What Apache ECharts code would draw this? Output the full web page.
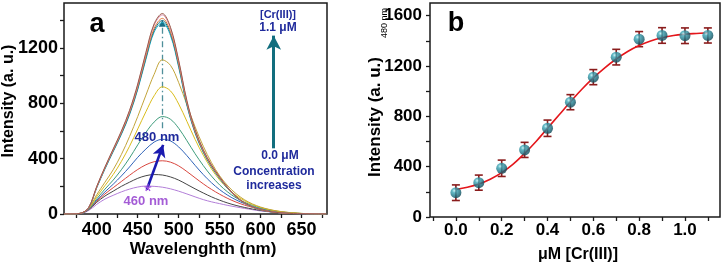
<!DOCTYPE html>
<html>
<head>
<meta charset="utf-8">
<script src="https://cdn.jsdelivr.net/npm/echarts@6/dist/echarts.min.js"></script>
<style>
  html, body { margin: 0; padding: 0; background: #fff; }
  #main { width: 724px; height: 264px; }
</style>
</head>
<body>
<div id="main"></div>
<script>
// panel a: emission spectra, one array per [Cr(III)] step
const wavelengths = [360, 370, 380, 390, 400, 410, 420, 430, 440, 450, 460, 470, 480, 490, 500, 510, 520,
  530, 540, 550, 560, 570, 580, 590, 600, 610, 620, 630, 640, 650, 660, 670, 680];
const spec00 = [0, 0, 3, 25, 70, 108, 135, 160, 180, 195, 202, 200, 194, 182, 165, 145, 124, 104, 88, 75, 62, 51, 41, 31, 22, 16, 11, 7, 4, 2, 1, 0, 0];
const spec01 = [0, 0, 4, 30, 85, 130, 165, 200, 230, 258, 277, 285, 282, 268, 245, 214, 182, 152, 124, 100, 79, 62, 48, 36, 26, 18, 12, 7, 4, 2, 1, 0, 0];
const spec02 = [0, 0, 4, 32, 92, 145, 190, 235, 280, 322, 356, 378, 385, 375, 348, 307, 262, 218, 178, 143, 112, 86, 65, 48, 35, 24, 16, 10, 6, 3, 1, 0, 0];
const spec03 = [0, 0, 4, 34, 100, 160, 215, 275, 340, 410, 470, 520, 540, 528, 485, 422, 352, 285, 226, 176, 135, 102, 76, 55, 39, 26, 17, 11, 6, 3, 1, 0, 0];
const spec04 = [0, 0, 4, 36, 110, 180, 245, 320, 405, 500, 590, 665, 705, 685, 620, 530, 436, 350, 274, 210, 158, 117, 86, 62, 43, 29, 19, 12, 7, 4, 2, 0, 0];
const spec05 = [0, 0, 5, 38, 125, 205, 285, 380, 490, 615, 740, 855, 920, 890, 795, 670, 540, 425, 326, 246, 183, 134, 97, 68, 47, 32, 21, 13, 8, 4, 2, 0, 0];
const spec06 = [0, 0, 5, 40, 140, 230, 320, 430, 560, 705, 860, 1010, 1115, 1075, 950, 790, 630, 490, 372, 276, 203, 147, 104, 73, 50, 34, 22, 14, 8, 4, 2, 0, 0];
const spec07 = [0, 0, 5, 43, 190, 325, 450, 575, 718, 900, 1118, 1315, 1385, 1290, 1060, 785, 585, 445, 340, 256, 182, 123, 79, 50, 31, 18, 11, 6, 3, 2, 1, 0, 0];
const spec08 = [0, 0, 5, 44, 193, 330, 455, 580, 725, 908, 1130, 1328, 1400, 1304, 1072, 793, 590, 450, 343, 259, 184, 124, 80, 51, 31, 18, 11, 6, 3, 2, 1, 0, 0];
const spec09 = [0, 0, 5, 44, 195, 333, 460, 587, 733, 918, 1142, 1342, 1415, 1318, 1083, 801, 596, 455, 347, 262, 186, 125, 80, 51, 31, 19, 11, 6, 3, 2, 1, 0, 0];
const spec10 = [0, 0, 5, 45, 198, 337, 466, 595, 744, 932, 1162, 1365, 1440, 1341, 1102, 814, 606, 462, 352, 266, 189, 127, 81, 52, 32, 19, 11, 6, 3, 2, 1, 0, 0];
const spec11 = [0, 0, 5, 45, 200, 340, 470, 600, 750, 940, 1170, 1375, 1450, 1350, 1110, 820, 610, 465, 355, 268, 190, 128, 82, 52, 32, 19, 11, 6, 3, 2, 1, 0, 0];
const spectra = [spec00, spec01, spec02, spec03, spec04, spec05, spec06, spec07, spec08, spec09, spec10, spec11];
const specColors = ['#b27ed8', '#454545', '#d8473f', '#2f63b8', '#3f9c7c', '#d9bc1c', '#c2a43a',
  '#1fb2c8', '#1c6f86', '#e07a3a', '#d98aa8', '#9a5a48'];

// panel b: intensity at 480 nm vs concentration
const conc = [0.0, 0.1, 0.2, 0.3, 0.4, 0.5, 0.6, 0.7, 0.8, 0.9, 1.0, 1.1];
const intensity = [193, 273, 387, 533, 705, 912, 1111, 1270, 1413, 1442, 1440, 1442];
const errors = [62, 60, 65, 60, 65, 60, 60, 62, 60, 62, 62, 60];
const fitX = [0, 0.05, 0.1, 0.15, 0.2, 0.25, 0.3, 0.35, 0.4, 0.45, 0.5, 0.55, 0.6, 0.65, 0.7, 0.75, 0.8, 0.85, 0.9, 0.95, 1.0, 1.05, 1.1];
const fitY = [218, 236, 262, 300, 352, 420, 505, 600, 705, 810, 915, 1015, 1105, 1185, 1255, 1315, 1362, 1398, 1424, 1442, 1452, 1458, 1463];

// tick positions (major = labelled, minor = tick only)
const aTicksX = [400, 450, 500, 550, 600, 650];
const aMinorX = [375, 425, 475, 525, 575, 625, 675];
const aTicksY = [0, 400, 800, 1200];
const aMinorY = [200, 600, 1000, 1400];
const bTicksX = [0, 0.2, 0.4, 0.6, 0.8, 1.0];
const bMinorX = [-0.1, 0.1, 0.3, 0.5, 0.7, 0.9, 1.1];
const bTicksY = [0, 400, 800, 1200, 1600];
const bMinorY = [200, 600, 1000, 1400];

const FONT = '"Liberation Sans", Arial, sans-serif';
const ink = '#1a1a1a';
const navyText = '#1f2a9c';

const chart = echarts.init(document.getElementById('main'), null, { renderer: 'canvas' });

const makeAxis = (grid, pos, major, minor, min, max, fmt, fontSize, margin) => ({
  type: 'value',
  gridIndex: grid,
  position: pos,
  min,
  max,
  axisLine: { show: false, onZero: false },
  splitLine: { show: false },
  axisTick: {
    show: true,
    inside: false,
    length: 4,
    customValues: [...major, ...minor].sort((a, b) => a - b),
    lineStyle: { color: ink, width: 1.3 },
  },
  axisLabel: { show: true, customValues: major, formatter: fmt, color: '#000', fontFamily: FONT, fontWeight: 'bold', fontSize, margin },
});

const spectraSeries = spectra.map((vals, i) => ({
  type: 'line',
  xAxisIndex: 0,
  yAxisIndex: 0,
  data: wavelengths.map((w, k) => [w, vals[k]]),
  smooth: 0.35,
  showSymbol: false,
  symbol: 'none',
  lineStyle: { color: specColors[i], width: 1 },
  z: 2 + i,
}));

const annotSeries = {
  type: 'line',
  xAxisIndex: 0,
  yAxisIndex: 0,
  data: [],
  z: 30,
  markLine: {
    silent: true,
    animation: false,
    label: { show: false },
    data: [
      [{ coord: [480, 620], symbol: 'none', lineStyle: { color: '#4f8f9a', width: 1.3, type: [6, 3, 1.5, 3] } },
       { coord: [480, 1370], symbol: 'none' }],
      [{ coord: [461, 175], symbol: 'none', lineStyle: { color: '#1a1ab0', width: 2.6, type: 'solid' } },
       { coord: [481, 500], symbol: 'arrow', symbolSize: [10, 12] }],
      [{ coord: [616, 475], symbol: 'none', lineStyle: { color: '#126e7e', width: 3, type: 'solid' } },
       { coord: [616, 1290], symbol: 'arrow', symbolSize: [11, 14] }],
    ],
  },
  markPoint: {
    silent: true,
    animation: false,
    data: [{ coord: [480, 1380], symbol: 'triangle', symbolSize: [7, 7], itemStyle: { color: '#1c6f86' }, label: { show: false } }],
  },
};

const errorSeries = {
  type: 'custom',
  xAxisIndex: 1,
  yAxisIndex: 1,
  data: conc.map((c, i) => [c, intensity[i], errors[i]]),
  z: 5,
  renderItem: (params, api) => {
    const x = api.value(0);
    const y = api.value(1);
    const e = api.value(2);
    const hi = api.coord([x, y + e]);
    const lo = api.coord([x, y - e]);
    const style = { stroke: '#8a1c1c', lineWidth: 1.6 };
    return {
      type: 'group',
      children: [
        { type: 'line', shape: { x1: hi[0], y1: hi[1], x2: lo[0], y2: lo[1] }, style },
        { type: 'line', shape: { x1: hi[0] - 4, y1: hi[1], x2: hi[0] + 4, y2: hi[1] }, style },
        { type: 'line', shape: { x1: lo[0] - 4, y1: lo[1], x2: lo[0] + 4, y2: lo[1] }, style },
      ],
    };
  },
};

const fitSeries = {
  type: 'line',
  xAxisIndex: 1,
  yAxisIndex: 1,
  data: fitX.map((x, i) => [x, fitY[i]]),
  smooth: 0.4,
  showSymbol: false,
  symbol: 'none',
  lineStyle: { color: '#e4161b', width: 1.6 },
  z: 6,
};

const pointSeries = {
  type: 'scatter',
  xAxisIndex: 1,
  yAxisIndex: 1,
  data: conc.map((c, i) => [c, intensity[i]]),
  symbolSize: 11,
  z: 7,
  itemStyle: {
    color: {
      type: 'radial', x: 0.35, y: 0.32, r: 0.75,
      colorStops: [
        { offset: 0, color: '#bdf0f4' },
        { offset: 0.25, color: '#3aa6b6' },
        { offset: 0.7, color: '#17697a' },
        { offset: 1, color: '#0b3f4c' },
      ],
    },
  },
};

const textStyle = (extra) => Object.assign({ fill: '#000', fontFamily: FONT, fontWeight: 'bold', textAlign: 'center', textVerticalAlign: 'middle' }, extra);

const option = {
  animation: false,
  backgroundColor: '#fff',
  grid: [
    { left: 64, right: 397, top: 3, bottom: 50, show: true, borderColor: ink, borderWidth: 1.5, backgroundColor: 'transparent' },
    { left: 430, right: 4, top: 3, bottom: 47, show: true, borderColor: ink, borderWidth: 1.5, backgroundColor: 'transparent' },
  ],
  xAxis: [
    makeAxis(0, 'bottom', aTicksX, aMinorX, 360, 681, (v) => String(v), 18, 7),
    makeAxis(1, 'bottom', bTicksX, bMinorX, -0.113, 1.153, (v) => v.toFixed(1), 17, 5),
  ],
  yAxis: [
    makeAxis(0, 'left', aTicksY, aMinorY, 0, 1526, (v) => String(v), 18, 6),
    makeAxis(1, 'left', bTicksY, bMinorY, 0, 1700, (v) => String(v), 17, 8),
  ],
  series: [...spectraSeries, annotSeries, errorSeries, fitSeries, pointSeries],
  graphic: [
    { type: 'text', x: 97, y: 25, style: textStyle({ text: 'a', fontSize: 27 }) },
    { type: 'text', x: 456, y: 24, style: textStyle({ text: 'b', fontSize: 27 }) },
    { type: 'text', x: 9, y: 101, rotation: Math.PI / 2, style: textStyle({ text: 'Intensity (a. u.)', fontSize: 16 }) },
    { type: 'text', x: 203, y: 249, style: textStyle({ text: 'Wavelenghth (nm)', fontSize: 17 }) },
    { type: 'text', x: 375, y: 117, rotation: Math.PI / 2, style: textStyle({ text: 'Intensity (a. u.)', fontSize: 17 }) },
    { type: 'text', x: 385, y: 23, rotation: Math.PI / 2, style: textStyle({ text: '480 nm', fontSize: 9, fontWeight: 'normal' }) },
    { type: 'text', x: 578, y: 255, style: textStyle({ text: 'μM [Cr(III)]', fontSize: 16 }) },
    { type: 'text', x: 157, y: 137, z: 40, style: textStyle({ text: '480 nm', fontSize: 13, fill: navyText }) },
    { type: 'text', x: 148, y: 192, z: 40, style: textStyle({ text: '*', fontSize: 20, fill: '#a04fe0', fontWeight: 'normal' }) },
    { type: 'text', x: 146, y: 201, z: 40, style: textStyle({ text: '460 nm', fontSize: 13, fill: '#a45cd6' }) },
    { type: 'text', x: 278, y: 15, style: textStyle({ text: '[Cr(III)]', fontSize: 11, fill: navyText }) },
    { type: 'text', x: 278, y: 28, style: textStyle({ text: '1.1 μM', fontSize: 12, fill: navyText }) },
    { type: 'text', x: 280, y: 156, style: textStyle({ text: '0.0 μM', fontSize: 12, fill: navyText }) },
    { type: 'text', x: 274, y: 172, style: textStyle({ text: 'Concentration', fontSize: 12, fill: navyText }) },
    { type: 'text', x: 274, y: 186, style: textStyle({ text: 'increases', fontSize: 12, fill: navyText }) },
  ],
};

chart.setOption(option);
</script>
</body>
</html>
